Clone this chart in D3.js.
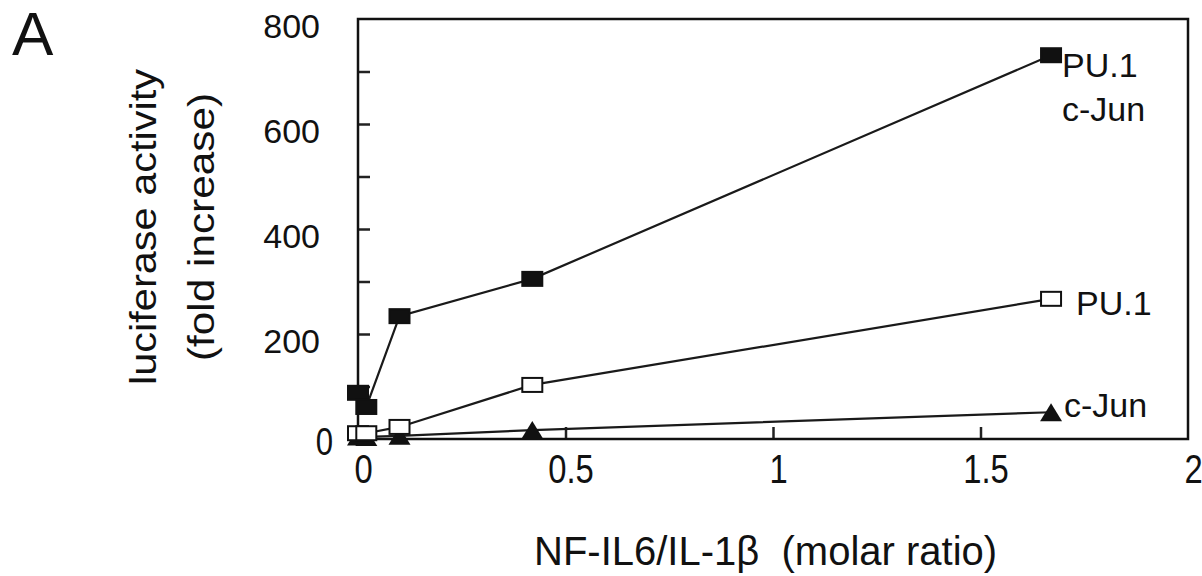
<!DOCTYPE html>
<meta charset="utf-8">
<head>
    <title>Luciferase activity vs NF-IL6/IL-1b</title>
    <script src="https://cdn.jsdelivr.net/npm/d3@7/dist/d3.min.js"></script>
</head>

<style>
    body { margin: 0; background: #fff; }
    svg { font-family: "Liberation Sans", Arial, sans-serif; fill: #111; }
    .domain { display: none; }
    .tick line { stroke: #222; stroke-width: 2.5; }
    .series .ln { fill: none; stroke: #1a1a1a; stroke-width: 2.2; }
</style>

<svg></svg>

<script>
    // data
    var molarRatio = [0, 0.02, 0.1, 0.42, 1.67];
    var puJun = [88, 61, 234, 305, 731];   // filled squares
    var pu1 = [11, 11, 23, 103, 267];      // open squares
    var cJun = [5, 4, 6, 17, 51];          // filled triangles
    var yTicks = [0, 100, 200, 300, 400, 500, 600, 700, 800];
    var xTicks = [0, 0.5, 1, 1.5, 2];

    var vWidth = 1202, vHeight = 576;
    var svg = d3.select('svg').attr('width', vWidth).attr('height', vHeight);

    var x = d3.scaleLinear().domain([0, 2]).range([358, 1188]);
    var y = d3.scaleLinear().domain([0, 800]).range([439, 19]);

    // y axis, ticks pointing in
    var yAxis = svg.append('g')
        .attr('transform', 'translate(' + x(0) + ',0)')
        .call(d3.axisLeft(y).tickValues(yTicks).tickSize(-12).tickPadding(38)
            .tickFormat(function (d) { return d % 200 === 0 && d > 0 ? d : ''; }));
    yAxis.selectAll('.tick text')
        .attr('font-size', 34).attr('fill', '#111').attr('y', 8)
        .attr('font-family', '"Liberation Sans", Arial, sans-serif');
    yAxis.selectAll('.tick line').filter(function (d) { return d === 0 || d === 800; }).remove();

    // the zero on the y axis is set taller and narrower in the scan
    svg.append('text')
        .attr('transform', 'translate(333,' + (y(0) + 16) + ') scale(0.82,1)')
        .attr('text-anchor', 'end').attr('font-size', 38).text('0');

    // x axis
    var xAxis = svg.append('g')
        .attr('transform', 'translate(0,' + y(0) + ')')
        .call(d3.axisBottom(x).tickValues(xTicks).tickSize(-12).tickFormat(d3.format('')));
    xAxis.selectAll('.tick line').filter(function (d) { return d === 0 || d === 2; }).remove();
    xAxis.selectAll('.tick text')
        .attr('font-size', 40).attr('fill', '#111').attr('y', 0).attr('dy', 0)
        .attr('font-family', '"Liberation Sans", Arial, sans-serif')
        .attr('transform', 'translate(5,44) scale(0.82,1)');

    // frame
    svg.append('rect')
        .attr('x', x(0)).attr('y', y(800))
        .attr('width', x(2) - x(0)).attr('height', y(0) - y(800))
        .attr('fill', 'none').attr('stroke', '#111').attr('stroke-width', 2.5);

    var line = d3.line()
        .x(function (d) { return x(d[0]); })
        .y(function (d) { return y(d[1]); });

    function pairs(vals) {
        return molarRatio.map(function (r, i) { return [r, vals[i]]; });
    }

    var series = [
        {vals: cJun, shape: 'tri', fill: '#111'},
        {vals: pu1, shape: 'sq', fill: '#fff'},
        {vals: puJun, shape: 'sq', fill: '#111'}
    ];

    series.forEach(function (s) {
        var g = svg.append('g').attr('class', 'series');
        g.append('path').attr('class', 'ln').attr('d', line(pairs(s.vals)));
        var pts = g.selectAll('.pt').data(pairs(s.vals)).enter();
        if (s.shape === 'sq') {
            pts.append('rect')
                .attr('x', function (d) { return x(d[0]) - 10; })
                .attr('y', function (d) { return y(d[1]) - 7; })
                .attr('width', 20).attr('height', 14)
                .style('fill', s.fill).style('stroke', '#111').style('stroke-width', 2);
        } else {
            pts.append('path')
                .attr('d', function (d) {
                    var cx = x(d[0]), cy = y(d[1]);
                    return 'M' + (cx - 11) + ',' + (cy + 9) + 'L' + cx + ',' + (cy - 9) +
                        'L' + (cx + 11) + ',' + (cy + 9) + 'Z';
                })
                .style('fill', s.fill).style('stroke', 'none');
        }
    });

    // series labels at the line ends
    var last = molarRatio.length - 1;
    function label(tx, ty, t) {
        svg.append('text').attr('x', tx).attr('y', ty).attr('font-size', 34).text(t);
    }
    label(x(molarRatio[last]) + 11, y(puJun[last]) + 22, 'PU.1');
    label(x(molarRatio[last]) + 11, y(puJun[last]) + 66, 'c-Jun');
    label(x(molarRatio[last]) + 25, y(pu1[last]) + 16, 'PU.1');
    label(x(molarRatio[last]) + 13, y(cJun[last]) + 5, 'c-Jun');

    // axis titles
    var yt = svg.append('text')
        .attr('transform', 'translate(0,227) rotate(-90)')
        .attr('text-anchor', 'middle').attr('font-size', 36);
    yt.append('tspan').attr('x', 0).attr('y', 156).attr('textLength', 316)
        .attr('lengthAdjust', 'spacingAndGlyphs').text('luciferase activity');
    yt.append('tspan').attr('x', 0).attr('y', 214).attr('textLength', 268)
        .attr('lengthAdjust', 'spacingAndGlyphs').text('(fold increase)');

    svg.append('text')
        .attr('x', 534).attr('y', 565).attr('font-size', 40)
        .text('NF-IL6/IL-1\u03b2  (molar ratio)')
        .style('white-space', 'pre');

    svg.append('text').attr('x', 12).attr('y', 55).attr('font-size', 62).text('A');
</script>
